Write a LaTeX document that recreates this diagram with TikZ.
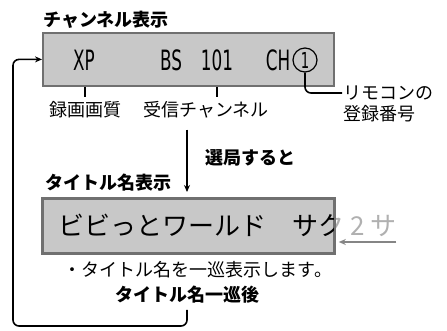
\documentclass[tikz,border=0pt]{standalone}
\usepackage{fontspec}
\usepackage{graphicx}
\newfontfamily\jp{Noto Sans CJK JP}
\newfontfamily\lcd{DejaVu Sans}
\usetikzlibrary{positioning,calc,arrows.meta}

\definecolor{boxgray}{HTML}{C8C8C8}
\definecolor{edgegray}{HTML}{707070}
\definecolor{fadegray}{HTML}{B0B0B0}
\definecolor{arrowgray}{HTML}{858585}

\newcommand\narrow[1]{\scalebox{0.6}[1]{#1}}
\newcommand\marqueetext{ビビっとワールド　サク 2 サ}

\begin{document}
\begin{tikzpicture}[x=1pt,y=-1pt,>={Stealth[length=7pt,width=6pt]},
  panel/.style={draw=edgegray,line width=1.8pt,fill=boxgray,minimum width=291pt,anchor=north west,inner sep=0pt},
  head/.style={font=\jp\bfseries\fontsize{18}{18}\selectfont,inner sep=0pt},
  note/.style={font=\jp\fontsize{18}{21}\selectfont,inner sep=0pt},
  lcdtext/.style={font=\lcd\fontsize{28}{28}\selectfont,inner sep=0pt},
  big/.style={font=\jp\fontsize{26}{26}\selectfont,inner sep=0pt,anchor=west},
  wire/.style={line width=1.6pt}]
\useasboundingbox (0,0) rectangle (447,330);
% channel display
\node[head,anchor=west] (chhead) at (43,20) {チャンネル表示};
\node[panel,minimum height=53pt] (chbox) at (42,32) {};
\node[lcdtext] (xp) at (84,60) {\narrow{XP}};
\node[lcdtext] (bs) at (171,60) {\narrow{BS}};
\node[lcdtext] (num) at (217,60) {\narrow{101}};
\node[lcdtext] (ch) at (278,60) {\narrow{CH}};
\node[circle,draw,line width=1.2pt,inner sep=0pt,minimum size=24pt,font=\lcd\fontsize{22}{22}\selectfont] (one) at (305,60) {\narrow{1}};
\node[note] (quality) at (85,110) {録画画質};
\node[note] (recv) at (206,110) {受信チャンネル};
\node[note,align=left,anchor=west] (remo) at (343,104) {リモコンの\\登録番号};
\coordinate (remoend) at (342,93);
\draw[wire,shorten >=4pt] (quality.north |- chbox.south) -- (quality.north);
\draw[wire,shorten >=4pt] (num.south |- chbox.south) -- (num.south |- recv.north);
\draw[wire,rounded corners=6pt] (one.south) |- (remoend);

% tuning step
\node[head,anchor=west] (go) at (205,158) {選局すると};
\node[head] (after) at (187,295) {タイトル名一巡後};
\draw[wire,->,shorten <=11pt,shorten >=6pt] (after.center |- recv.south) -- (after.center |- 198,198);

% title display
\node[head,anchor=west] (tihead) at (45,183) {タイトル名表示};
\node[big,text=fadegray] (fade) at (58,225) {\marqueetext};
\node[panel,minimum height=54pt] (tibox) at (42,198) {};
\begin{scope}
\clip (tibox.north west) rectangle (tibox.south east);
\node[big] (title) at (58,225) {\marqueetext};
\end{scope}
\draw[draw=edgegray,line width=1.8pt] (tibox.north west) rectangle (tibox.south east);
\draw[wire,arrowgray,->,shorten >=4pt] ([yshift=-17pt]fade.east) -- ([yshift=-17pt]fade.east -| tibox.east);
\node[note] (cycle) at (198,270) {・タイトル名を一巡表示します。};

% back to channel display
\coordinate (loopbase) at (13,326);
\draw[wire,->,rounded corners=6pt,shorten <=6pt] (after.south) |- (loopbase) |- (chbox.west);
\end{tikzpicture}
\end{document}
